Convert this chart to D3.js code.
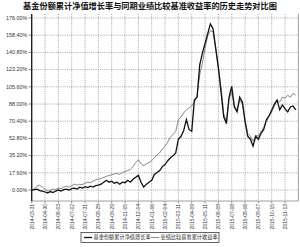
<!DOCTYPE html>
<html><head><meta charset="utf-8">
<script src="https://cdn.jsdelivr.net/npm/d3@7/dist/d3.min.js"></script>
<style>html,body{margin:0;padding:0;background:#fff;}svg{display:block;}</style>
</head><body>
<script>
const title = "基金份额累计净值增长率与同期业绩比较基准收益率的历史走势对比图";
const seriesNames = ["基金份额累计净值增长率", "业绩比较基准累计收益率"];
const xLabels = ["2014-03-31","2014-04-30","2014-06-03","2014-07-02","2014-07-31","2014-08-29","2014-09-29","2014-11-05","2014-12-04","2015-01-06","2015-02-04","2015-03-11","2015-04-09","2015-05-11","2015-06-09","2015-07-08","2015-08-06","2015-09-07","2015-10-15","2015-11-13"];
const yTicks = [0, 17.6, 35.2, 52.8, 70.4, 88, 105.6, 123.2, 140.8, 158.4, 176];
const fund = [0,0.5,1,-0.5,-1,-2,-3,-1.5,-2.5,-1,0,-1,0.5,1,0,1.5,2,1,3,2,3.5,2.5,4,3,4.5,5,6,8,10,8,9,7,8,6,8,7.5,10,8,11,13,15,8,3,6,8,10,16,18,20,24,26,30,33,35,38,52,55,61,72,62,60,92,95,128,140,150,160,170,165,145,125,100,75,68,95,106,85,80,95,90,70,55,52,45,55,52,58,62,72,76,82,88,92,82,87,83,80,85,86,82];
const bench = [0,1,4,5,3,1,-1,0,1,0.5,2,1.5,3,4,3,4.5,6,5,6,5.5,7,8,7.5,9,10.5,11,12,13,14,15,15.5,16.5,17,16,18,19,20,21,24,28,31,27,25,27,28,30,33,36,38,42,45,49,54,57,60,72,75,79,82,84,86,90,96,118,130,145,158,163,162,145,125,105,78,70,93,100,86,82,92,88,72,58,55,50,56,55,60,64,70,75,80,86,92,90,95,94,97,95,99,97];

const W = 300, H = 247;
const L = 31.7, R = 298.4, T = 14, B = 201;
const svg = d3.select("body").append("svg").attr("width", W).attr("height", H);

const x = d3.scaleLinear().domain([0, 100]).range([L, R]);
const y = d3.scaleLinear().domain([-11.2, 180.1]).range([B, T]);

svg.append("text").attr("x", 150).attr("y", 9).attr("text-anchor", "middle")
  .attr("font-family", "'Noto Sans CJK SC', sans-serif").attr("font-weight", "bold")
  .attr("font-size", 8.2).attr("fill", "#111").text(title);

// grid
const g = svg.append("g");
g.selectAll("line.hg").data(yTicks).join("line")
  .attr("x1", L).attr("x2", R).attr("y1", d => y(d)).attr("y2", d => y(d))
  .attr("stroke", "#666").attr("stroke-width", 0.6).attr("stroke-dasharray", "1,1.2");
g.selectAll("line.vg").data(d3.range(1, 21)).join("line")
  .attr("x1", d => x(d * 5)).attr("x2", d => x(d * 5)).attr("y1", T).attr("y2", B)
  .attr("stroke", "#666").attr("stroke-width", 0.6).attr("stroke-dasharray", "1,1.2");
// right border
svg.append("line").attr("x1", R).attr("x2", R).attr("y1", T).attr("y2", B).attr("stroke", "#999").attr("stroke-width", 0.8);
// bottom axis
svg.append("line").attr("x1", L).attr("x2", R).attr("y1", B).attr("y2", B).attr("stroke", "#888").attr("stroke-width", 0.8);
svg.selectAll("line.xt").data(d3.range(0, 20)).join("line")
  .attr("x1", d => x(d * 5)).attr("x2", d => x(d * 5)).attr("y1", B).attr("y2", B + 2.5)
  .attr("stroke", "#555").attr("stroke-width", 0.6);
// y ticks + labels
svg.selectAll("line.yt").data(yTicks).join("line")
  .attr("x1", L - 3).attr("x2", L).attr("y1", d => y(d)).attr("y2", d => y(d))
  .attr("stroke", "#333").attr("stroke-width", 0.6);
svg.selectAll("text.yl").data(yTicks).join("text")
  .attr("x", L - 4.5).attr("y", d => y(d) + 1.8).attr("text-anchor", "end")
  .attr("font-family", "'Liberation Sans', Arial, sans-serif").attr("font-size", 5.4)
  .attr("fill", "#333").text(d => d.toFixed(2) + "%");
// x labels
svg.selectAll("text.xl").data(xLabels).join("text")
  .attr("transform", (d, i) => `translate(${x(i * 5) + 1.8},${B + 3}) rotate(-90)`)
  .attr("text-anchor", "end")
  .attr("font-family", "'Liberation Sans', Arial, sans-serif").attr("font-size", 5)
  .attr("fill", "#333").text(d => d);

// lines
const line = d3.line().x((d, i) => x(i)).y(d => y(d));
svg.append("path").datum(bench).attr("d", line).attr("fill", "none")
  .attr("stroke", "#7a7a7a").attr("stroke-width", 0.9);
svg.append("path").datum(fund).attr("d", line).attr("fill", "none")
  .attr("stroke", "#111").attr("stroke-width", 1.3);

// left axis
svg.append("line").attr("x1", L).attr("x2", L).attr("y1", T).attr("y2", B).attr("stroke", "#222").attr("stroke-width", 1.4);

// legend
const lg = svg.append("g");
lg.append("rect").attr("x", 81).attr("y", 232.5).attr("width", 138).attr("height", 10)
  .attr("fill", "#fff").attr("stroke", "#222").attr("stroke-width", 0.7);
const items = [{n: seriesNames[0], c: "#111", w: 1.3, x0: 84}, {n: seriesNames[1], c: "#7a7a7a", w: 0.9, x0: 151}];
items.forEach(it => {
  lg.append("line").attr("x1", it.x0).attr("x2", it.x0 + 8).attr("y1", 237.5).attr("y2", 237.5)
    .attr("stroke", it.c).attr("stroke-width", it.w);
  lg.append("text").attr("x", it.x0 + 9.5).attr("y", 239.4)
    .attr("font-family", "'Noto Sans CJK SC', sans-serif").attr("font-size", 5.2)
    .attr("fill", "#222").text(it.n);
});
</script>
</body></html>
